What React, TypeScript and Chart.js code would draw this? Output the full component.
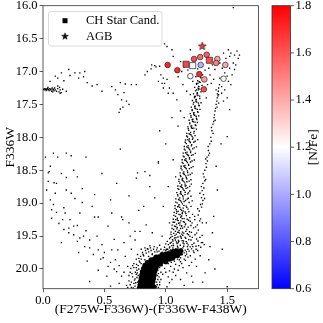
import React, { useEffect, useRef } from 'react';
import { Chart, registerables } from 'chart.js';
Chart.register(...registerables);

// ---------- axes / labels ----------
const X_MIN = 0.0;
const X_MAX = 1.755;
const Y_MIN = 16.0;
const Y_MAX = 20.3;
const CB_MIN = 0.6;
const CB_MAX = 1.8;
const xTickValues = [0.0, 0.5, 1.0, 1.5];
const yTickValues = [16.0, 16.5, 17.0, 17.5, 18.0, 18.5, 19.0, 19.5, 20.0];
const cbTickValues = [0.6, 0.8, 1.0, 1.2, 1.4, 1.6, 1.8];
const xTitle = '(F275W-F336W)-(F336W-F438W)';
const yTitle = 'F336W';
const cbTitle = '[N/Fe]';
const legendLabels = ['CH Star Cand.', 'AGB'];

// ---------- coloured stars: [x, y, [N/Fe]] ----------
const chCircles: [number, number, number][] = [
  [1.015, 16.90, 1.72], [1.094, 16.98, 1.70], [1.23, 16.81, 1.62], [1.28, 16.78, 1.55],
  [1.333, 16.745, 1.58], [1.284, 16.90, 1.02], [1.42, 16.81, 1.42], [1.41, 16.87, 1.50],
  [1.485, 16.90, 1.40], [1.273, 17.04, 1.70], [1.20, 17.07, 1.22], [1.314, 17.12, 1.42],
  [1.47, 17.11, 1.21], [1.31, 17.27, 1.62],
];
const chSquares: [number, number, number][] = [
  [1.165, 16.89, 1.64], [1.219, 16.91, 1.18], [1.355, 16.83, 1.62],
];
const agbStars: [number, number, number][] = [[1.297, 16.61, 1.68]];

// ---------- photometric catalogue (black dots): [colour, F336W] ----------
const rgbStars: [number, number][] = [
  [1.013,19.74],[1.041,19.71],[1.067,19.735],[1.082,19.69],[1.104,19.72],[1.121,19.745],[1.139,19.68],[1.158,19.715],[1.176,19.66],[1.19,19.73],[1.21,19.695],[1.032,19.665],[1.058,19.68],[1.095,19.655],[1.128,19.70],[1.247,19.70],[1.285,19.67],
  [1.021,19.63],[1.045,19.595],[1.063,19.645],[1.078,19.56],[1.092,19.615],[1.107,19.58],[1.118,19.64],[1.133,19.57],[1.149,19.62],[1.166,19.585],[1.182,19.635],[1.205,19.56],[1.229,19.61],[1.262,19.575],[1.055,19.555],[1.087,19.59],[1.313,19.63],
  [1.031,19.54],[1.052,19.505],[1.071,19.53],[1.086,19.47],[1.099,19.515],[1.112,19.455],[1.126,19.535],[1.139,19.49],[1.157,19.52],[1.175,19.465],[1.196,19.505],[1.238,19.48],[1.278,19.52],[1.065,19.46],[1.118,19.50],[1.146,19.455],
  [1.043,19.44],[1.064,19.40],[1.079,19.43],[1.094,19.37],[1.108,19.415],[1.121,19.385],[1.136,19.44],[1.152,19.36],[1.171,19.40],[1.193,19.435],[1.226,19.375],[1.265,19.41],[1.081,19.355],[1.129,19.35],[1.102,19.445],
  [1.052,19.335],[1.071,19.29],[1.088,19.32],[1.101,19.265],[1.115,19.30],[1.128,19.345],[1.143,19.28],[1.161,19.315],[1.185,19.26],[1.214,19.30],[1.257,19.33],[1.094,19.255],[1.122,19.27],[1.276,19.27],
  [1.061,19.245],[1.079,19.20],[1.094,19.23],[1.108,19.17],[1.121,19.215],[1.134,19.16],[1.149,19.235],[1.168,19.19],[1.196,19.22],[1.264,19.18],[1.283,19.24],[1.087,19.155],[1.129,19.195],
  [1.068,19.14],[1.086,19.10],[1.101,19.125],[1.114,19.065],[1.128,19.11],[1.142,19.075],[1.158,19.135],[1.181,19.09],[1.273,19.12],[1.291,19.06],[1.097,19.055],[1.135,19.145],
  [1.075,19.04],[1.093,18.995],[1.108,19.025],[1.121,18.965],[1.135,19.01],[1.149,18.975],[1.166,19.045],[1.19,18.99],[1.283,19.02],[1.302,18.96],[1.112,18.955],
  [1.082,18.935],[1.099,18.89],[1.113,18.92],[1.127,18.865],[1.141,18.905],[1.156,18.87],[1.174,18.94],[1.205,18.895],[1.291,18.915],[1.118,18.855],[1.307,18.87],
  [1.09,18.84],[1.106,18.79],[1.121,18.825],[1.134,18.765],[1.149,18.805],[1.165,18.775],[1.185,18.845],[1.296,18.81],[1.127,18.755],[1.31,18.77],
  [1.098,18.74],[1.114,18.695],[1.129,18.725],[1.143,18.665],[1.157,18.71],[1.172,18.675],[1.195,18.745],[1.302,18.70],[1.135,18.655],[1.165,18.735],
  [1.107,18.64],[1.123,18.595],[1.138,18.625],[1.152,18.565],[1.167,18.61],[1.182,18.575],[1.205,18.645],[1.311,18.60],[1.145,18.555],[1.325,18.64],
  [1.116,18.54],[1.132,18.495],[1.147,18.525],[1.161,18.465],[1.176,18.51],[1.192,18.475],[1.214,18.545],[1.318,18.50],[1.155,18.455],
  [1.125,18.44],[1.141,18.395],[1.156,18.425],[1.17,18.365],[1.185,18.41],[1.201,18.375],[1.222,18.445],[1.327,18.40],[1.163,18.355],[1.339,18.36],
  [1.133,18.34],[1.149,18.295],[1.164,18.325],[1.178,18.265],[1.193,18.31],[1.209,18.275],[1.232,18.345],[1.336,18.30],[1.171,18.255],
  [1.142,18.24],[1.158,18.195],[1.173,18.225],[1.187,18.165],[1.202,18.21],[1.219,18.175],[1.241,18.245],[1.347,18.20],[1.18,18.155],[1.356,18.24],
  [1.151,18.14],[1.167,18.095],[1.182,18.125],[1.196,18.065],[1.211,18.11],[1.228,18.075],[1.25,18.145],[1.358,18.10],[1.189,18.055],
  [1.161,18.04],[1.177,17.995],[1.192,18.025],[1.206,17.965],[1.221,18.01],[1.238,17.975],[1.367,18.00],[1.199,17.955],[1.26,18.035],
  [1.171,17.94],[1.187,17.895],[1.202,17.925],[1.216,17.865],[1.231,17.91],[1.249,17.875],[1.376,17.90],[1.209,17.855],[1.385,17.94],
  [1.18,17.84],[1.196,17.795],[1.211,17.825],[1.225,17.765],[1.24,17.81],[1.258,17.775],[1.384,17.80],[1.218,17.755],
  [1.19,17.74],[1.206,17.695],[1.221,17.725],[1.235,17.665],[1.25,17.71],[1.268,17.675],[1.393,17.70],[1.228,17.655],[1.402,17.74],
  [1.199,17.64],[1.215,17.595],[1.23,17.625],[1.244,17.565],[1.259,17.61],[1.278,17.575],[1.401,17.60],[1.237,17.555],
  [1.208,17.54],[1.224,17.495],[1.239,17.525],[1.253,17.465],[1.268,17.51],[1.287,17.475],[1.41,17.50],[1.246,17.455],[1.418,17.54],
  [1.217,17.44],[1.233,17.395],[1.248,17.425],[1.262,17.365],[1.277,17.41],[1.419,17.40],[1.255,17.355],[1.425,17.37],
  [1.226,17.34],[1.242,17.295],[1.257,17.325],[1.271,17.265],[1.286,17.31],[1.428,17.30],[1.264,17.255],
  [1.235,17.24],[1.251,17.195],[1.266,17.225],[1.28,17.165],[1.295,17.21],[1.437,17.20],[1.273,17.155],
  [1.26,17.14],[1.285,17.095],[1.30,17.13],[1.245,17.08],
];

const rgbStarsB: [number, number][] = [
  [1.005,19.70],[1.027,19.725],[1.049,19.645],[1.074,19.705],[1.099,19.675],[1.113,19.735],[1.146,19.655],[1.168,19.74],[1.199,19.665],[1.225,19.725],[1.268,19.645],[1.036,19.61],[1.061,19.62],[1.101,19.60],[1.141,19.605],[1.173,19.61],[1.214,19.63],[1.246,19.655],[1.29,19.60],
  [1.012,19.58],[1.039,19.52],[1.058,19.575],[1.083,19.525],[1.103,19.565],[1.124,19.515],[1.144,19.575],[1.163,19.535],[1.187,19.555],[1.216,19.52],[1.251,19.545],[1.042,19.475],[1.075,19.49],[1.097,19.445],[1.131,19.47],[1.163,19.43],[1.185,19.48],[1.209,19.445],[1.251,19.455],[1.296,19.49],
  [1.051,19.385],[1.071,19.35],[1.09,19.39],[1.114,19.335],[1.137,19.38],[1.16,19.33],[1.182,19.365],[1.205,19.34],[1.243,19.36],[1.06,19.29],[1.081,19.25],[1.105,19.305],[1.133,19.235],[1.152,19.29],[1.174,19.245],[1.199,19.275],[1.236,19.25],[1.298,19.30],[1.235,19.20],
  [1.066,19.185],[1.09,19.13],[1.117,19.175],[1.141,19.12],[1.163,19.16],[1.188,19.13],[1.218,19.17],[1.075,19.08],[1.104,19.045],[1.121,19.095],[1.148,19.035],[1.171,19.065],[1.206,19.05],[1.26,19.085],[1.298,19.01],
  [1.081,18.985],[1.104,18.945],[1.128,18.985],[1.143,18.935],[1.161,18.96],[1.183,18.925],[1.215,18.965],[1.096,18.87],[1.121,18.83],[1.137,18.885],[1.158,18.835],[1.178,18.86],[1.195,18.815],[1.278,18.85],[1.316,18.93],
  [1.099,18.78],[1.118,18.745],[1.141,18.785],[1.158,18.74],[1.178,18.765],[1.208,18.71],[1.107,18.67],[1.133,18.635],[1.152,18.68],[1.171,18.63],[1.19,18.665],[1.29,18.75],[1.318,18.66],
  [1.119,18.58],[1.141,18.545],[1.162,18.585],[1.178,18.535],[1.199,18.565],[1.124,18.47],[1.147,18.435],[1.168,18.48],[1.186,18.425],[1.207,18.46],[1.305,18.555],[1.331,18.455],
  [1.134,18.38],[1.154,18.345],[1.176,18.385],[1.193,18.33],[1.214,18.36],[1.142,18.285],[1.161,18.235],[1.185,18.28],[1.202,18.23],[1.222,18.265],[1.325,18.33],[1.349,18.27],
  [1.151,18.18],[1.17,18.145],[1.193,18.185],[1.208,18.13],[1.231,18.16],[1.158,18.075],[1.179,18.035],[1.2,18.08],[1.217,18.03],[1.239,18.06],[1.345,18.14],[1.37,18.06],
  [1.17,17.98],[1.19,17.945],[1.214,17.985],[1.229,17.935],[1.183,17.87],[1.205,17.83],[1.228,17.86],[1.245,17.82],[1.195,17.78],[1.215,17.73],[1.238,17.77],[1.253,17.73],[1.205,17.67],[1.226,17.63],[1.247,17.68],[1.262,17.62],[1.372,17.85],[1.39,17.76],[1.396,17.66],
  [1.215,17.58],[1.235,17.53],[1.257,17.575],[1.272,17.52],[1.228,17.47],[1.245,17.43],[1.266,17.48],[1.236,17.38],[1.256,17.33],[1.276,17.375],[1.25,17.28],[1.27,17.23],[1.29,17.27],[1.262,17.18],[1.405,17.56],[1.415,17.45],[1.42,17.34],[1.43,17.25],
];

// dense sub-giant branch / turn-off core
const sgbCore: [number, number][] = [
  [0.785,20.29],[0.81,20.28],[0.835,20.295],[0.86,20.28],[0.885,20.29],[0.905,20.275],
  [0.79,20.24],[0.815,20.23],[0.84,20.245],[0.865,20.225],[0.89,20.24],
  [0.795,20.19],[0.82,20.18],[0.845,20.195],[0.87,20.175],[0.895,20.19],
  [0.80,20.14],[0.825,20.13],[0.85,20.145],[0.875,20.125],[0.90,20.14],
  [0.805,20.09],[0.83,20.08],[0.855,20.095],[0.88,20.075],[0.905,20.09],
  [0.81,20.04],[0.835,20.03],[0.86,20.045],[0.885,20.025],[0.91,20.035],
  [0.82,19.99],[0.845,19.98],[0.87,19.995],[0.895,19.975],[0.92,19.985],
  [0.83,19.945],[0.855,19.935],[0.88,19.95],[0.905,19.93],[0.93,19.94],[0.955,19.925],
  [0.85,19.905],[0.875,19.895],[0.90,19.90],[0.925,19.89],[0.95,19.895],[0.975,19.88],[1.00,19.89],
  [0.88,19.86],[0.905,19.855],[0.93,19.85],[0.955,19.845],[0.98,19.85],[1.005,19.84],[1.03,19.85],[1.055,19.835],
  [0.92,19.82],[0.945,19.815],[0.97,19.81],[0.995,19.805],[1.02,19.81],[1.045,19.80],[1.07,19.805],[1.095,19.795],
  [0.97,19.78],[1.00,19.775],[1.03,19.77],[1.06,19.765],[1.09,19.77],[1.115,19.76],
  [1.06,19.735],[1.09,19.73],[1.12,19.725],
];

const hbStars: [number, number][] = [
  [0.005, 17.27], [0.01, 17.28], [0.015, 17.26], [0.02, 17.27], [0.025, 17.29], [0.03, 17.27],
  [0.035, 17.26], [0.04, 17.28], [0.045, 17.27], [0.05, 17.29], [0.055, 17.26], [0.06, 17.28],
  [0.065, 17.27], [0.07, 17.30], [0.075, 17.25], [0.08, 17.28], [0.085, 17.27], [0.09, 17.29],
  [0.095, 17.25], [0.10, 17.28], [0.11, 17.30], [0.12, 17.26], [0.13, 17.31], [0.14, 17.28],
  [0.15, 17.32], [0.16, 17.27], [0.04, 17.24], [0.08, 17.31], [0.12, 17.22], [0.135, 17.24],
  [0.057, 17.15], [0.10, 17.07], [0.15, 17.02], [0.21, 16.97], [0.26, 17.02], [0.30, 17.02],
  [0.29, 17.10], [0.34, 17.00], [0.36, 17.17], [0.44, 17.20], [0.48, 17.30], [0.56, 17.23],
  [0.59, 17.28], [0.63, 17.17], [0.67, 17.19], [0.61, 17.35], [0.64, 17.43], [0.68, 17.45],
  [0.63, 17.57], [0.65, 17.54], [0.76, 17.20], [0.19, 17.30], [0.14, 17.33], [0.17, 17.14],
  [0.12, 17.10], [0.22, 17.06], [0.33, 17.08], [0.40, 17.22], [0.66, 17.32], [0.62, 17.62],
  [0.70, 17.50], [0.85, 17.00], [0.88, 16.96], [0.92, 16.93], [0.83, 17.05], [0.95, 16.92],
  [0.96, 17.05], [0.98, 17.10], [0.99, 17.18], [1.01, 17.12], [1.03, 17.25], [1.06, 17.33],
  [1.09, 17.43], [0.98, 17.25], [1.02, 17.33], [0.97, 17.18], [0.94, 17.15],
];

const brightGiants: [number, number][] = [
  [0.885, 16.90], [0.91, 16.91], [1.05, 16.67], [1.06, 16.77], [1.12, 16.85], [1.13, 17.00],
  [1.14, 17.20], [1.17, 17.30], [1.20, 17.35], [1.25, 17.18], [1.24, 17.38], [1.36, 17.05],
  [1.37, 17.18], [1.40, 16.97], [1.41, 17.28], [1.43, 17.35], [1.44, 16.87], [1.47, 16.72],
  [1.51, 16.67], [1.52, 16.77], [1.55, 16.87], [1.58, 16.69], [1.59, 16.80], [1.56, 16.97],
  [1.52, 16.95], [1.48, 17.02], [1.50, 17.07], [1.51, 17.15], [1.455, 17.23], [1.265, 17.28],
  [1.33, 17.40], [1.55, 16.03], [1.20, 16.67], [0.99, 16.58], [1.01, 16.62], [1.455, 17.33],
  [1.43, 17.48], [1.53, 16.72], [1.56, 16.75], [1.49, 16.80], [1.46, 16.95], [1.35, 16.95],
  [1.38, 16.90], [1.32, 16.98], [1.26, 16.96], [1.18, 16.98], [1.15, 16.93], [1.10, 17.08],
  [1.22, 17.15], [1.30, 17.05], [1.34, 17.20], [1.39, 17.12], [1.44, 17.10], [1.57, 16.90],
  [1.60, 16.75], [1.54, 17.05], [1.53, 17.20], [1.48, 17.28], [1.50, 17.40], [1.47, 17.45],
];

const fieldStars: [number, number][] = [
  [0.72, 17.20], [0.83, 18.52], [0.76, 18.62], [0.87, 18.75], [0.82, 19.05], [0.75, 19.43],
  [0.98, 19.05], [1.02, 18.75], [1.06, 18.34], [1.10, 17.83], [0.94, 18.39], [0.77, 18.54],
  [0.87, 18.58], [0.94, 18.37], [0.78, 19.11], [0.91, 18.92], [0.70, 18.89], [0.63, 18.18],
  [1.00, 18.10], [1.05, 17.70], [0.95, 17.90], [1.08, 18.60], [1.03, 19.30], [0.97, 19.50],
  [1.00, 19.62], [1.12, 17.60], [1.15, 17.70],
  [1.52, 17.58], [1.50, 17.99], [1.41, 18.44], [1.39, 19.20], [1.36, 19.66], [1.32, 20.06],
  [1.21, 20.11], [1.50, 20.27], [1.35, 19.86], [1.25, 19.96], [1.17, 20.06], [1.12, 20.16],
  [1.03, 20.21], [1.45, 18.10], [1.42, 18.80], [1.38, 19.45], [1.30, 19.60], [1.33, 19.30],
  [1.28, 19.80], [1.40, 20.00], [1.46, 19.70], [1.22, 20.20], [1.15, 20.25], [1.30, 20.20],
  [1.08, 20.10], [1.19, 19.95], [1.24, 19.85],
];

const blueStragglers: [number, number][] = [
  [0.085, 18.24], [0.19, 18.24], [0.23, 18.28], [0.06, 18.44], [0.043, 18.54], [0.043, 18.67],
  [0.09, 18.69], [0.11, 18.70], [0.19, 18.61], [0.19, 18.80], [0.23, 18.85], [0.32, 18.78],
  [0.26, 18.93], [0.42, 18.87], [0.32, 18.99], [0.06, 18.95], [0.085, 19.02], [0.07, 19.10],
  [0.17, 19.07], [0.18, 19.15], [0.11, 19.14], [0.07, 19.23], [0.13, 19.31], [0.40, 19.05],
  [0.42, 19.21], [0.45, 19.21], [0.56, 19.15], [0.64, 19.21], [0.65, 19.25], [0.17, 19.40],
  [0.21, 19.38], [0.25, 19.35], [0.28, 19.34], [0.21, 19.45], [0.25, 19.48], [0.30, 19.53],
  [0.28, 19.58], [0.34, 19.66], [0.38, 19.56], [0.38, 19.68], [0.41, 19.78], [0.45, 19.71],
  [0.48, 19.63], [0.49, 19.83], [0.53, 19.96], [0.56, 19.71], [0.61, 19.71], [0.59, 19.86],
  [0.67, 19.81], [0.60, 20.04], [0.64, 20.11], [0.38, 20.19], [0.52, 20.11], [0.69, 19.96],
  [0.75, 19.56], [0.79, 19.43], [0.84, 19.33], [0.89, 19.45], [0.05, 18.52], [0.10, 18.85],
  [0.15, 18.55], [0.22, 19.25], [0.30, 19.15], [0.35, 19.42], [0.33, 19.50], [0.44, 19.50],
  [0.47, 19.85], [0.55, 19.90], [0.58, 20.00], [0.62, 19.95], [0.66, 20.05], [0.70, 20.10],
  [0.72, 20.20], [0.68, 20.25], [0.62, 20.22], [0.55, 20.26], [0.45, 20.02], [0.50, 19.75],
  [0.36, 19.88], [0.29, 19.75], [0.15, 19.60], [0.25, 18.50], [0.35, 18.30], [0.48, 18.55],
  [0.55, 18.95], [0.60, 18.70], [0.70, 19.30], [0.72, 19.70], [0.76, 19.85], [0.74, 19.98],
  [0.02, 18.30], [0.03, 18.80], [0.12, 18.30], [0.28, 18.60], [0.53, 19.35], [0.58, 19.55],
  [0.66, 19.60], [0.71, 19.50], [0.16, 19.25],
];

const sgbHalo: [number, number][] = [
  [0.72, 20.28], [0.74, 20.22], [0.75, 20.15], [0.76, 20.08], [0.765, 20.02], [0.775, 19.95],
  [0.79, 19.90], [0.80, 19.85], [0.82, 19.80], [0.84, 19.76], [0.86, 19.74], [0.88, 19.72],
  [0.90, 19.70], [0.93, 19.68], [0.96, 19.70], [0.99, 19.67], [0.73, 20.12], [0.75, 20.26],
  [0.76, 19.98], [0.78, 19.84], [0.81, 19.75], [0.85, 19.69], [0.91, 19.74], [0.95, 19.64],
  [1.00, 19.72], [1.03, 19.68], [1.06, 19.705], [0.94, 20.28], [0.95, 20.20], [0.945, 20.12],
  [0.96, 20.05], [0.99, 19.99], [1.04, 19.96], [1.08, 19.93], [1.12, 19.89], [1.15, 19.85],
  [1.18, 19.82], [0.93, 20.24], [0.935, 20.16], [0.94, 20.07], [1.02, 20.12], [1.06, 20.05],
  [1.10, 20.02], [1.14, 19.98], [1.20, 19.80], [1.23, 19.75], [1.21, 19.90], [1.01, 20.27],
  [1.05, 20.16], [0.70, 20.18], [0.69, 20.28], [0.71, 20.05], [0.74, 19.92], [0.77, 19.78],
  [0.80, 19.70], [0.83, 19.68], [0.87, 19.65], [0.89, 19.78], [0.97, 19.745], [1.02, 19.74],
  [1.11, 19.86], [1.16, 19.80], [1.26, 19.72], [1.18, 19.70], [1.14, 19.73], [1.22, 19.66],
  [1.135, 19.78], [1.15, 19.755], [1.17, 19.775], [1.12, 19.83], [1.095, 19.85], [1.07, 19.88],
  [1.045, 19.90], [1.02, 19.92], [0.97, 19.95], [0.95, 19.98], [0.935, 20.02], [0.93, 20.10],
  [0.925, 20.20], [0.92, 20.27], [0.77, 20.20], [0.775, 20.10], [0.78, 20.00], [0.80, 19.92],
  [0.83, 19.86], [0.86, 19.81], [0.89, 19.77], [0.93, 19.74], [1.10, 19.70], [1.05, 19.75],
  [0.735, 20.29], [0.755, 20.21], [0.745, 20.17], [0.765, 20.13], [0.752, 20.05], [0.768, 20.06],
  [0.762, 19.93], [0.785, 19.88], [0.795, 19.81], [0.815, 19.78], [0.835, 19.72], [0.855, 19.70],
  [0.875, 19.68], [0.905, 19.66], [0.925, 19.71], [0.945, 19.73], [0.985, 19.71], [1.015, 19.70],
  [1.04, 19.725], [1.075, 19.74], [0.71, 20.24], [0.725, 20.07], [0.715, 19.99], [0.73, 19.95],
  [0.95, 20.24], [0.96, 20.16], [0.975, 20.08], [1.00, 20.05], [1.03, 20.03], [1.07, 20.00],
  [1.11, 19.95], [1.13, 19.92], [1.16, 19.87],
];

// ---------- helpers ----------
function bwr(v: number): string {
  let t = (v - CB_MIN) / (CB_MAX - CB_MIN);
  t = Math.max(0, Math.min(1, t));
  let r: number, g: number, b: number;
  if (t < 0.5) { r = g = 2 * t; b = 1; } else { r = 1; g = b = 2 * (1 - t); }
  return `rgb(${Math.round(r * 255)},${Math.round(g * 255)},${Math.round(b * 255)})`;
}
const pairsToPoints = (p: [number, number][]) => p.map(([x, y]) => ({ x, y }));

function makeStar(fill: string, R: number): HTMLCanvasElement {
  const size = Math.ceil(2 * R + 3);
  const c = document.createElement('canvas');
  c.width = size; c.height = size;
  const ctx = c.getContext('2d')!;
  const cx = size / 2, cy = size / 2 + 0.4;
  ctx.beginPath();
  for (let i = 0; i < 10; i++) {
    const rad = i % 2 === 0 ? R : R * 0.42;
    const a = -Math.PI / 2 + (i * Math.PI) / 5;
    const px = cx + rad * Math.cos(a), py = cy + rad * Math.sin(a);
    if (i === 0) ctx.moveTo(px, py); else ctx.lineTo(px, py);
  }
  ctx.closePath();
  ctx.fillStyle = fill; ctx.fill();
  ctx.lineWidth = 0.7; ctx.strokeStyle = '#222'; ctx.stroke();
  return c;
}

const FONT = "'Liberation Serif', 'Times New Roman', serif";

export default function App() {
  const ref = useRef<HTMLCanvasElement>(null);
  useEffect(() => {
    document.body.style.margin = '0';
    const canvas = ref.current!;

    const dotDs = (label: string, pts: { x: number; y: number }[]) => ({
      label, data: pts, pointStyle: 'rect', pointRadius: 0.95, backgroundColor: '#000',
      borderWidth: 0, order: 10,
    });

    const decor = {
      id: 'decor',
      afterDatasetsDraw(chart: any) {
        const { ctx, chartArea: a } = chart;
        ctx.save();
        // frame
        ctx.strokeStyle = '#333'; ctx.lineWidth = 0.8;
        ctx.strokeRect(a.left, a.top, a.right - a.left, a.bottom - a.top);
        // legend
        const lx = 48.5, ly = 11.5, lw = 113.5, lh = 34.5, rr = 2.5;
        ctx.beginPath();
        ctx.moveTo(lx + rr, ly); ctx.lineTo(lx + lw - rr, ly); ctx.quadraticCurveTo(lx + lw, ly, lx + lw, ly + rr);
        ctx.lineTo(lx + lw, ly + lh - rr); ctx.quadraticCurveTo(lx + lw, ly + lh, lx + lw - rr, ly + lh);
        ctx.lineTo(lx + rr, ly + lh); ctx.quadraticCurveTo(lx, ly + lh, lx, ly + lh - rr);
        ctx.lineTo(lx, ly + rr); ctx.quadraticCurveTo(lx, ly, lx + rr, ly); ctx.closePath();
        ctx.fillStyle = 'rgba(255,255,255,0.85)'; ctx.fill();
        ctx.strokeStyle = '#d0d0d0'; ctx.lineWidth = 0.8; ctx.stroke();
        ctx.fillStyle = '#000';
        ctx.fillRect(62.5, 18.2, 5, 5);
        const st = makeStar('#000', 3.5);
        ctx.drawImage(st, 65 - st.width / 2, 36 - st.height / 2);
        ctx.font = `12.5px ${FONT}`;
        ctx.textBaseline = 'middle'; ctx.textAlign = 'left';
        ctx.fillText(legendLabels[0], 86, 21);
        ctx.fillText(legendLabels[1], 86, 36.5);
        // colorbar
        const x0 = 272, x1 = 290.5;
        const grad = ctx.createLinearGradient(0, a.bottom, 0, a.top);
        grad.addColorStop(0, bwr(CB_MIN));
        grad.addColorStop(0.5, bwr((CB_MIN + CB_MAX) / 2));
        grad.addColorStop(1, bwr(CB_MAX));
        ctx.fillStyle = grad;
        ctx.fillRect(x0, a.top, x1 - x0, a.bottom - a.top);
        ctx.strokeStyle = '#333'; ctx.lineWidth = 0.8;
        ctx.strokeRect(x0, a.top, x1 - x0, a.bottom - a.top);
        ctx.fillStyle = '#000';
        ctx.font = `12.5px ${FONT}`;
        for (const v of cbTickValues) {
          const y = a.bottom - ((v - CB_MIN) / (CB_MAX - CB_MIN)) * (a.bottom - a.top);
          ctx.beginPath(); ctx.moveTo(x1, y); ctx.lineTo(x1 + 3.5, y); ctx.stroke();
          ctx.fillText(v.toFixed(1), x1 + 5, y);
        }
        ctx.save();
        ctx.translate(313, (a.top + a.bottom) / 2);
        ctx.rotate(-Math.PI / 2);
        ctx.textAlign = 'center';
        ctx.font = `13.5px ${FONT}`;
        ctx.fillText(cbTitle, 0, 0);
        ctx.restore();
        ctx.restore();
      },
    };

    const starImgs = agbStars.map((s) => makeStar(bwr(s[2]), 4.2));

    const chart = new Chart(canvas, {
      type: 'scatter',
      data: {
        datasets: [
          {
            label: 'AGB', data: agbStars.map(([x, y]) => ({ x, y })),
            pointStyle: starImgs as any, pointRadius: 4, order: 0,
          } as any,
          {
            label: 'CH squares', data: chSquares.map(([x, y]) => ({ x, y })),
            pointStyle: 'rect', pointRadius: 4.3,
            backgroundColor: chSquares.map((s) => bwr(s[2])),
            borderColor: '#222', borderWidth: 0.7, order: 1,
          },
          {
            label: 'CH circles', data: chCircles.map(([x, y]) => ({ x, y })),
            pointStyle: 'circle', pointRadius: 2.8,
            backgroundColor: chCircles.map((s) => bwr(s[2])),
            borderColor: '#222', borderWidth: 0.7, order: 2,
          },
          {
            label: 'SGB core', data: pairsToPoints(sgbCore), pointStyle: 'circle',
            pointRadius: 2.6, backgroundColor: '#000', borderWidth: 0, order: 5,
          },
          dotDs('RGB', pairsToPoints(rgbStars)),
          dotDs('RGB b', pairsToPoints(rgbStarsB)),
          dotDs('HB', pairsToPoints(hbStars)),
          dotDs('giants', pairsToPoints(brightGiants)),
          dotDs('field', pairsToPoints(fieldStars)),
          dotDs('BSS', pairsToPoints(blueStragglers)),
          dotDs('halo', pairsToPoints(sgbHalo)),
        ] as any,
      },
      options: {
        animation: false,
        responsive: false,
        devicePixelRatio: 1,
        events: [],
        layout: { padding: { top: 5.7, right: 64.5, left: 0, bottom: 0 } },
        plugins: { legend: { display: false }, tooltip: { enabled: false } },
        scales: {
          x: {
            type: 'linear', min: X_MIN, max: X_MAX,
            afterBuildTicks: (s: any) => { s.ticks = xTickValues.map((v) => ({ value: v })); },
            afterFit: (s: any) => { s.height = 34.3; s.paddingLeft = 0; s.paddingRight = 0; },
            grid: { drawOnChartArea: false, drawTicks: true, tickLength: 3.5, color: '#333', lineWidth: 0.8 },
            border: { display: false },
            ticks: { padding: 1, color: '#000', font: { family: FONT, size: 12.5 }, callback: (v: any) => Number(v).toFixed(1), maxRotation: 0 },
            title: { display: true, text: xTitle, color: '#000', font: { family: FONT, size: 13.5 }, padding: { top: 0, bottom: 5 } },
          },
          y: {
            type: 'linear', min: Y_MIN, max: Y_MAX, reverse: true,
            afterBuildTicks: (s: any) => { s.ticks = yTickValues.map((v) => ({ value: v })); },
            afterFit: (s: any) => { s.width = 43; s.paddingTop = 0; s.paddingBottom = 0; },
            grid: { drawOnChartArea: false, drawTicks: true, tickLength: 3.5, color: '#333', lineWidth: 0.8 },
            border: { display: false },
            ticks: { padding: 2, color: '#000', font: { family: FONT, size: 12.5 }, callback: (v: any) => Number(v).toFixed(1) },
            title: { display: true, text: yTitle, color: '#000', font: { family: FONT, size: 13.5 }, padding: { top: 2, bottom: 0 } },
          },
        },
      } as any,
      plugins: [decor],
    });
    return () => chart.destroy();
  }, []);
  return (
    <div style={{ width: 323, height: 323 }}>
      <canvas ref={ref} width={323} height={323} style={{ display: 'block', width: 323, height: 323 }} />
    </div>
  );
}
